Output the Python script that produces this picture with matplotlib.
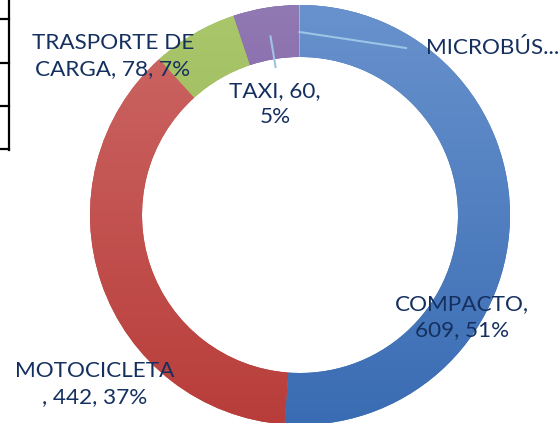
import numpy as np
import matplotlib
matplotlib.use("Agg")
import matplotlib.pyplot as plt
from matplotlib.colors import LinearSegmentedColormap

# datos del grafico (sentido horario desde las 12)
categorias = ["COMPACTO", "MOTOCICLETA", "TRASPORTE DE CARGA", "TAXI", "MICROBÚS"]
valores = [609, 442, 78, 60, 1]
porcentajes = ["51%", "37%", "7%", "5%", "0%"]

# colores claro -> oscuro (degradado tipo Excel)
colores = [("#6892CD", "#3A6CB3"),
           ("#CD6866", "#B83D3A"),
           ("#AAC76B", "#8FB14E"),
           ("#9179B3", "#714E9C"),
           ("#8DC3D6", "#4BACC6")]

W, H = 559, 423
fig = plt.figure(figsize=(W / 100, H / 100), dpi=100)
ax = fig.add_axes([0, 0, 1, 1])

cx, cy = 300, H - 215
R, ancho = 210, 52

wedges, _ = ax.pie(valores, startangle=90, counterclock=False, radius=R,
                   center=(cx, cy), frame=True,
                   wedgeprops=dict(width=ancho, linewidth=0),
                   colors=[c[1] for c in colores])

grad = np.linspace(0, 1, 256).reshape(-1, 1)
for w, (c1, c2) in zip(wedges, colores):
    cmap = LinearSegmentedColormap.from_list("g", [c1, c2])
    im = ax.imshow(grad, cmap=cmap, aspect="auto", origin="upper",
                   extent=[cx - R, cx + R, cy - R, cy + R], zorder=2)
    im.set_clip_path(w)

ax.set_xlim(0, W)
ax.set_ylim(0, H)
ax.set_aspect("equal")
ax.axis("off")

texto = dict(color="#15305F", fontsize=16.2, family=["Lato", "DejaVu Sans"],
             ha="center", va="center", linespacing=1.38, zorder=5)

def px(x, y):
    return x, H - y

ax.text(*px(113, 56), f"TRASPORTE DE\nCARGA, {valores[2]}, {porcentajes[2]}", **texto)
ax.text(*px(275, 104), f"TAXI, {valores[3]},\n{porcentajes[3]}", **texto)
ax.text(*px(462, 317), f"COMPACTO,\n{valores[0]}, {porcentajes[0]}", **texto)
ax.text(*px(95, 384), f"MOTOCICLETA\n, {valores[1]}, {porcentajes[1]}", **texto)
t = dict(texto)
t["ha"] = "left"
ax.text(*px(426, 48), "MICROBÚS...", **t)

# lineas guia
total = sum(valores)
acum = np.cumsum([0] + valores)
def punto(i, r):
    ang = np.deg2rad(90 - 360 * (acum[i] + valores[i] / 2) / total)
    return cx + r * np.cos(ang), cy + r * np.sin(ang)

p1, p2 = punto(3, 181), punto(3, 150)
ax.plot([p1[0], p2[0]], [p1[1], p2[1]], color="#9DC3E6", lw=1.5, zorder=4)
p1 = punto(4, 183)
ax.plot([p1[0], 406], [p1[1], H - 48], color="#9DC3E6", lw=1.5, zorder=4)

# bordes de la tabla a la izquierda
ax.plot([9, 9], [H, H - 150], color="black", lw=1.6, zorder=6)
for yy in [19, 63, 106, 149]:
    ax.plot([0, 9], [H - yy, H - yy], color="black", lw=1.6, zorder=6)

fig.savefig("out.png", dpi=100)
